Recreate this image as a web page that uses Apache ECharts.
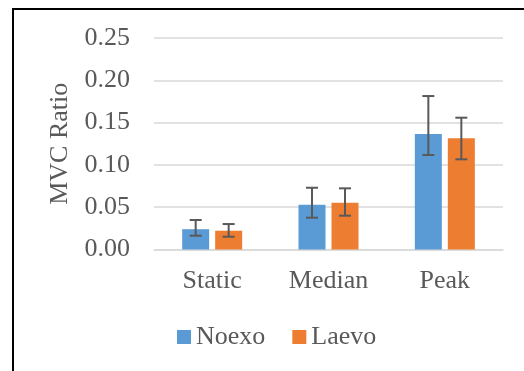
<!DOCTYPE html>
<html>
<head>
<meta charset="utf-8">
<script src="https://cdn.jsdelivr.net/npm/echarts@6/dist/echarts.min.js"></script>
<style>html,body{margin:0;padding:0;background:#fff;}#c{width:524px;height:371px;}</style>
</head>
<body>
<div id="c"></div>
<script>
var categories = ['Static', 'Median', 'Peak'];
var seriesNames = ['Noexo', 'Laevo'];
var noexo = [0.024, 0.053, 0.1365];
var laevo = [0.0222, 0.0553, 0.1314];
var noexoLow = [0.0163, 0.0376, 0.1117];
var noexoHigh = [0.0349, 0.0730, 0.1814];
var laevoLow = [0.0151, 0.0400, 0.1066];
var laevoHigh = [0.0301, 0.0723, 0.1558];
var yTicks = [0, 0.05, 0.10, 0.15, 0.20, 0.25];

var FONT = 'Liberation Serif';
var TXT = '#595959';
var BAR_W = 27, BAR_GAP = 6;

function errSeries(name, low, high, offset) {
  return {
    type: 'custom',
    name: name + ' error',
    silent: true,
    z: 5,
    data: categories.map(function (c, i) { return [i, low[i], high[i]]; }),
    encode: { x: 0, y: [1, 2] },
    renderItem: function (params, api) {
      var lo = api.coord([api.value(0), api.value(1)]);
      var hi = api.coord([api.value(0), api.value(2)]);
      var x = lo[0] + offset;
      var cap = 6;
      var st = { stroke: '#595959', lineWidth: 2 };
      return {
        type: 'group',
        children: [
          { type: 'line', shape: { x1: x, y1: lo[1], x2: x, y2: hi[1] }, style: st },
          { type: 'line', shape: { x1: x - cap, y1: lo[1], x2: x + cap, y2: lo[1] }, style: st },
          { type: 'line', shape: { x1: x - cap, y1: hi[1], x2: x + cap, y2: hi[1] }, style: st }
        ]
      };
    }
  };
}

var chart = echarts.init(document.getElementById('c'), null, { renderer: 'canvas' });
var off = (BAR_W + BAR_GAP) / 2;
chart.setOption({
  animation: false,
  backgroundColor: '#fff',
  textStyle: { fontFamily: FONT },
  graphic: [{
    type: 'rect', z: 100, silent: true,
    shape: { x: 13, y: 9, width: 700, height: 700 },
    style: { fill: 'none', stroke: '#000', lineWidth: 2 }
  }],
  grid: { left: 154, right: 21, top: 38, bottom: 121.5, containLabel: false },
  legend: {
    data: seriesNames,
    left: 177, top: 324, padding: 0,
    itemWidth: 14, itemHeight: 14, itemGap: 27,
    icon: 'rect',
    textStyle: { fontFamily: FONT, fontSize: 26, color: TXT }
  },
  xAxis: {
    type: 'category',
    data: categories,
    axisTick: { show: false },
    axisLine: { lineStyle: { color: '#D9D9D9', width: 1.5 } },
    axisLabel: { fontFamily: FONT, fontSize: 26, color: TXT, margin: 19 }
  },
  yAxis: {
    type: 'value',
    min: 0, max: 0.25, interval: 0.05,
    name: 'MVC Ratio',
    nameLocation: 'middle',
    nameGap: 76,
    nameTextStyle: { fontFamily: FONT, fontSize: 26, color: TXT },
    axisLine: { show: false },
    axisTick: { show: false },
    splitLine: { lineStyle: { color: '#D9D9D9', width: 1.5 } },
    axisLabel: {
      fontFamily: FONT, fontSize: 26, color: TXT, margin: 24,
      formatter: function (v) { return v.toFixed(2); }
    }
  },
  series: [
    { name: 'Noexo', type: 'bar', data: noexo, barWidth: BAR_W, barGap: (BAR_GAP / BAR_W * 100) + '%', itemStyle: { color: '#5B9BD5' } },
    { name: 'Laevo', type: 'bar', data: laevo, barWidth: BAR_W, itemStyle: { color: '#ED7D31' } },
    errSeries('Noexo', noexoLow, noexoHigh, -off),
    errSeries('Laevo', laevoLow, laevoHigh, off)
  ]
});
</script>
</body>
</html>
